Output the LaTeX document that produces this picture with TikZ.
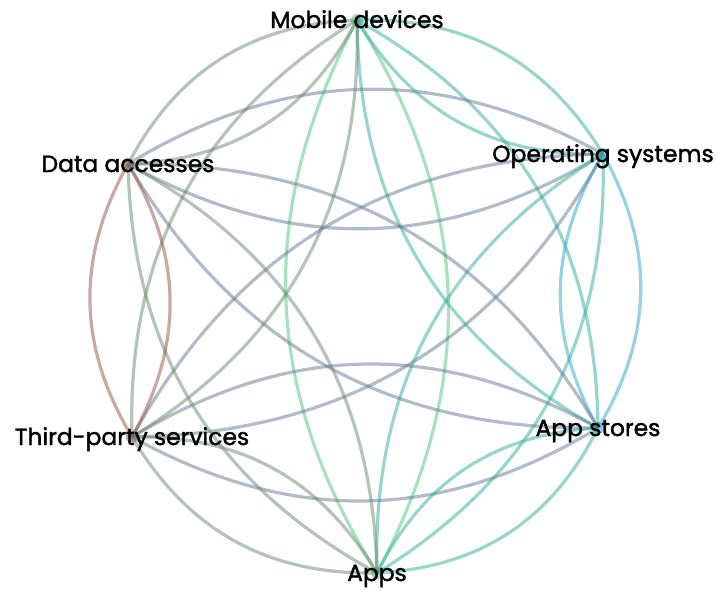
\documentclass[tikz,border=0pt]{standalone}
\usepackage{fontspec}
\setmainfont{Poppins}
\newfontfamily\hubfont{Poppins}[FakeBold=1.6]
\definecolor{cMint}{RGB}{80,197,130}
\definecolor{cTeal}{RGB}{47,172,155}
\definecolor{cGreyGreen}{RGB}{105,138,113}
\definecolor{cBlueGrey}{RGB}{97,122,147}
\definecolor{cBrown}{RGB}{147,80,72}
\definecolor{cLightBlue}{RGB}{47,163,205}
\begin{document}
\begin{tikzpicture}[x=1pt,y=-1pt,
  hub/.style={circle,inner sep=0pt,minimum size=12pt,fill opacity=0.55,draw=none},
  edge/.style={line width=3.2pt,draw opacity=0.5},
  lbl/.style={anchor=base,yshift=-8pt,font=\hubfont\fontsize{23.4}{27}\selectfont,text=black,inner sep=0pt}]
\useasboundingbox (0,0) rectangle (717,592);

% hubs on the ring
\node[hub,fill=cMint]      (mob)  at (357,20)  {};
\node[hub,fill=cLightBlue] (os)   at (603,154) {};
\node[hub,fill=cLightBlue] (st)   at (598,428) {};
\node[hub,fill=cMint]      (apps) at (377,573) {};
\node[hub,fill=cBrown]     (tp)   at (132,437) {};
\node[hub,fill=cBrown]     (da)   at (128,164) {};

% each pair of hubs is joined by two arcs bowing apart
\foreach \a/\b/\c in {
  mob/apps/cMint, mob/os/cTeal, mob/st/cTeal, mob/da/cGreyGreen, mob/tp/cGreyGreen,
  os/st/cLightBlue, os/da/cBlueGrey, os/tp/cBlueGrey, os/apps/cTeal,
  st/da/cBlueGrey, st/tp/cBlueGrey, st/apps/cTeal,
  apps/da/cGreyGreen, apps/tp/cGreyGreen, da/tp/cBrown}{
  \draw[edge,draw=\c] (\a.center) to[bend left=30] (\b.center);
  \draw[edge,draw=\c] (\a.center) to[bend right=30] (\b.center);
}

% labels
\node[lbl] at (mob.center)  {Mobile devices};
\node[lbl] at (os.center)   {Operating systems};
\node[lbl] at (st.center)   {App stores};
\node[lbl] at (apps.center) {Apps};
\node[lbl] at (tp.center)   {Third-party services};
\node[lbl] at (da.center)   {Data accesses};
\end{tikzpicture}
\end{document}
